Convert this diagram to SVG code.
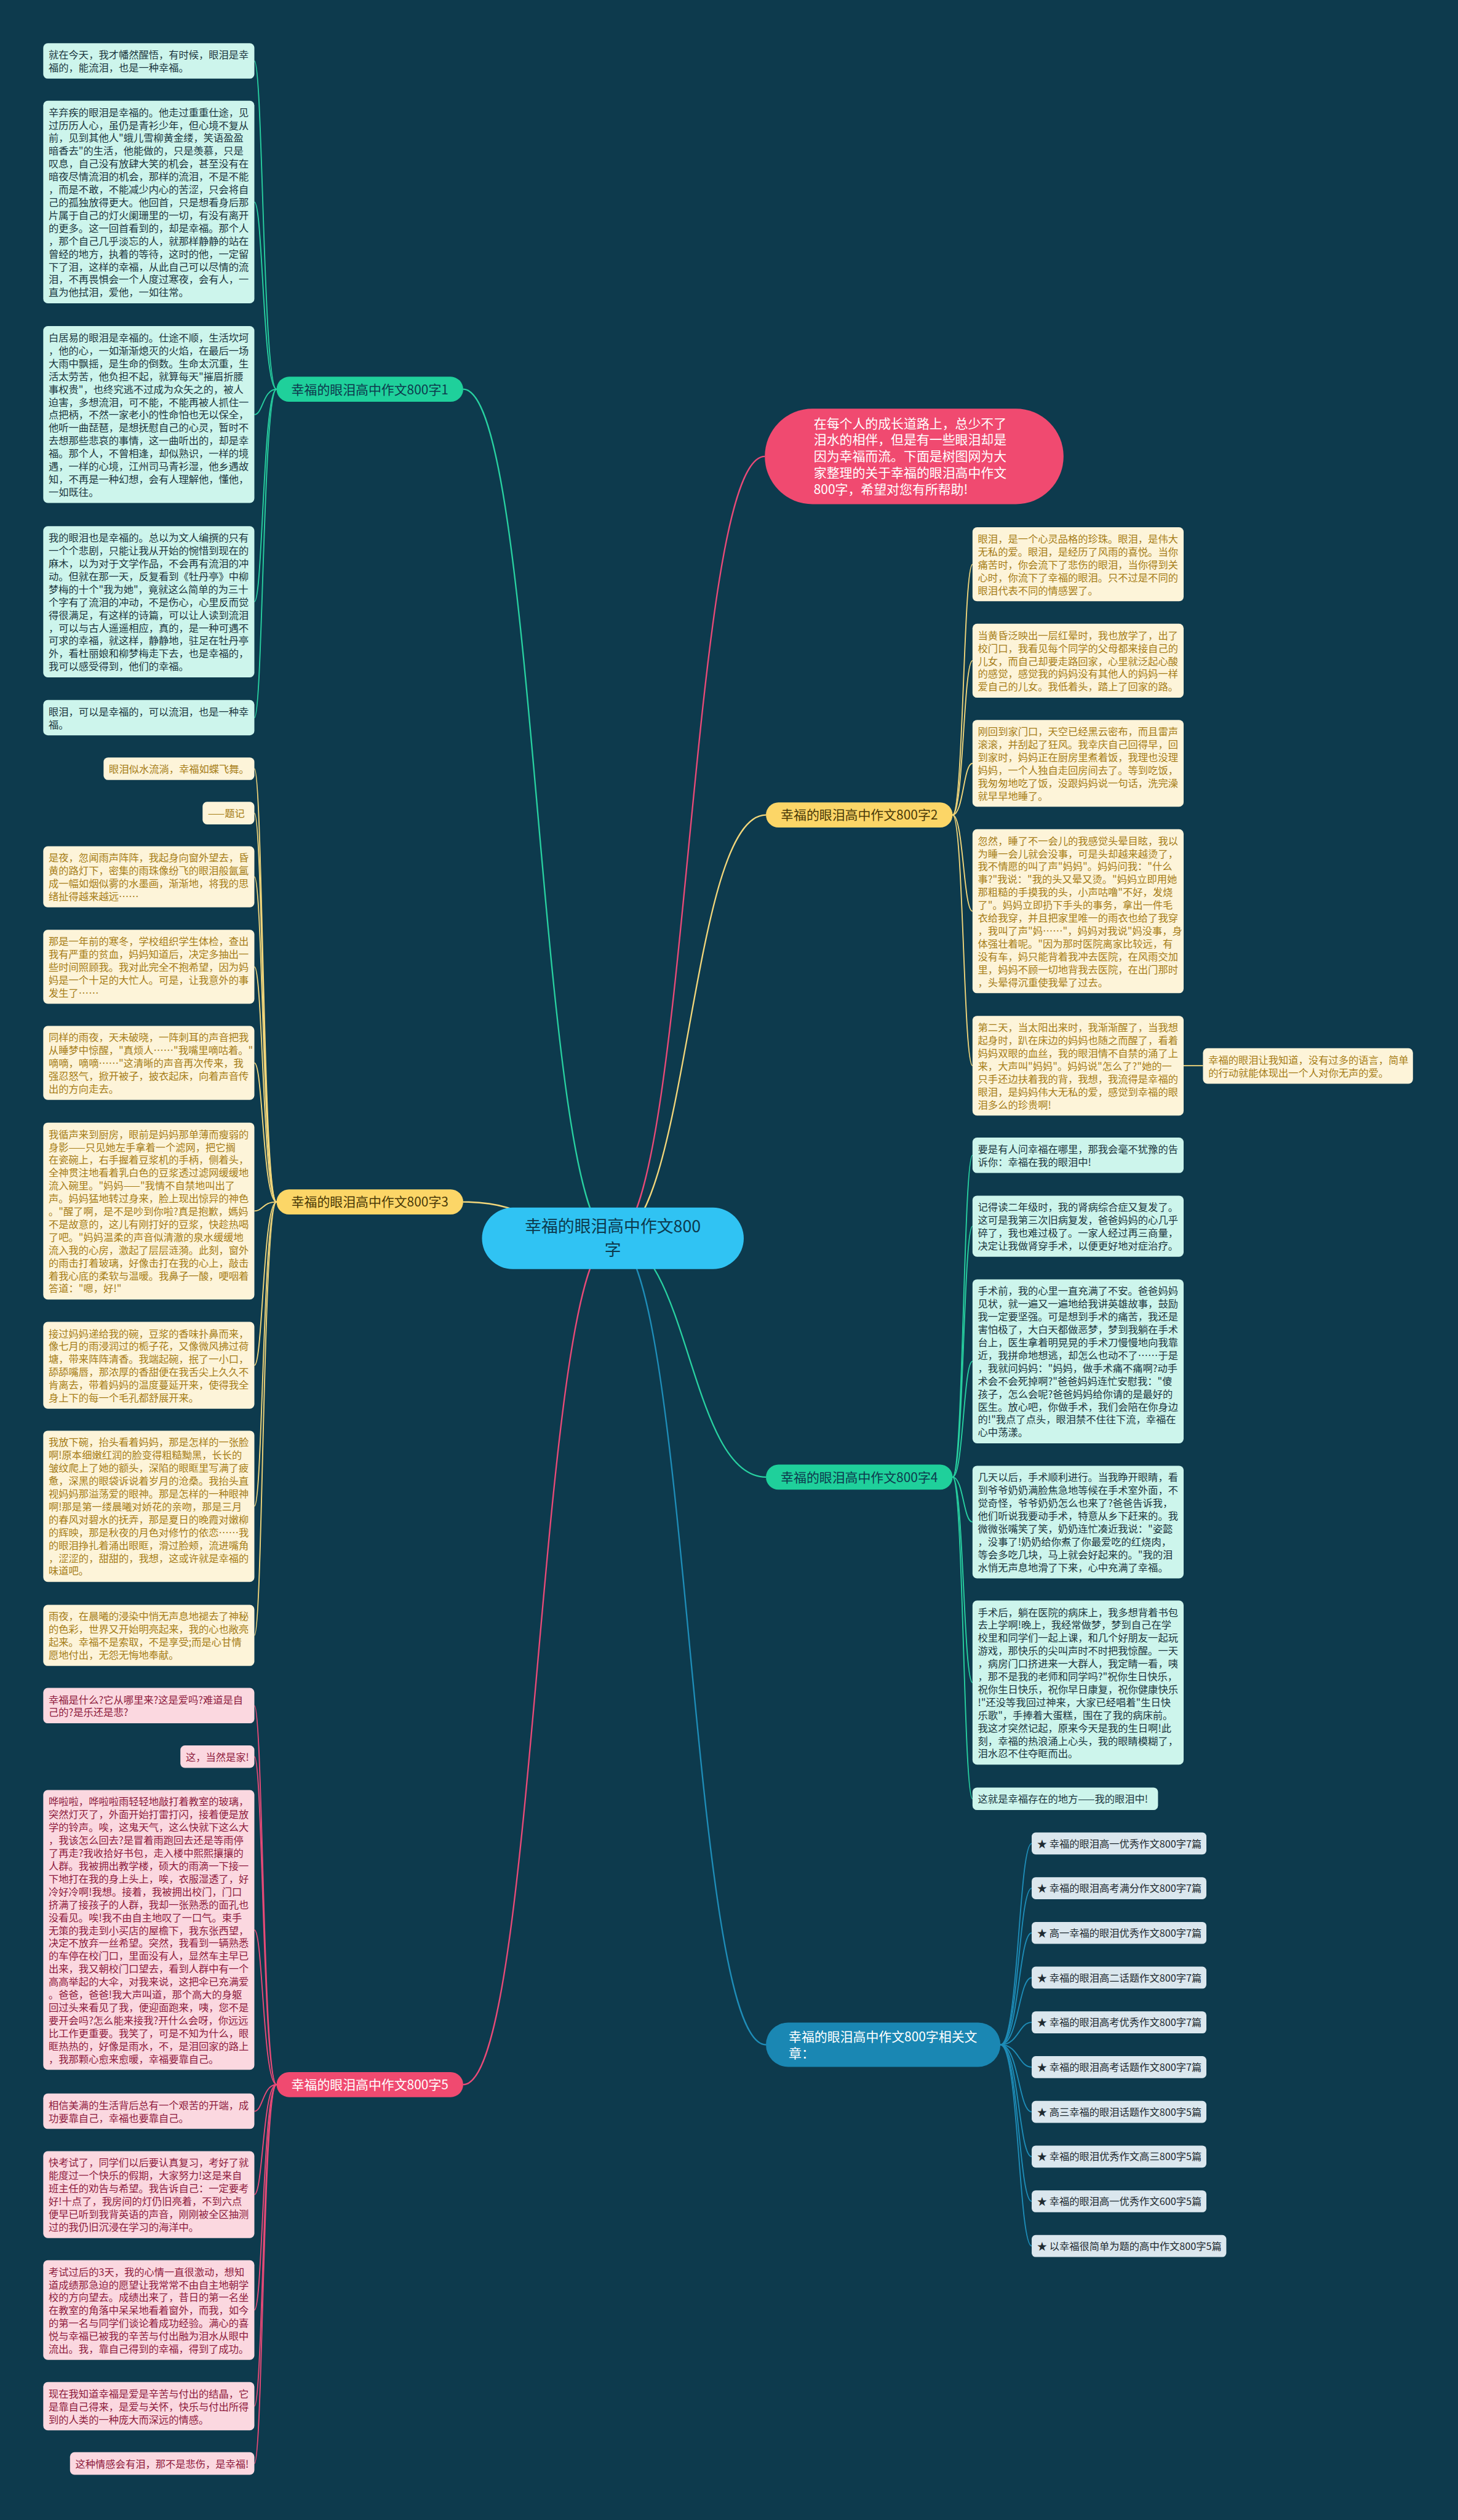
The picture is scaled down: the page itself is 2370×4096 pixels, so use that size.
<svg xmlns="http://www.w3.org/2000/svg" width="2370" height="4096" viewBox="0 0 2370 4096">
<style>
.t{font-family:"Noto Sans CJK SC","Noto Sans",sans-serif;font-size:17.6px}
.bt{font-family:"Noto Sans CJK SC","Noto Sans",sans-serif;font-size:22.6px}
.g rect{fill:#cdf5ec}.g text{fill:#1b3640}
.y rect{fill:#fdf4d9}.y text{fill:#a67d17}
.p rect{fill:#fbd8e0}.p text{fill:#8e1b3d}
.l rect{fill:#dbe7ee}.l text{fill:#1e2a30}
#connectors path{fill:none;stroke-width:2}
.cg{stroke:#28d1a1}.cy{stroke:#f3d77b}.cp{stroke:#ea4a78}.cb{stroke:#1e8db8}
.m{stroke-width:2.5 !important}
</style>
<rect x="0" y="0" width="2370" height="4096" fill="#0d3a4d"/>
<g transform="scale(0.925)">
<g id="connectors">
<path class="cp m" d="M1077 2176 C1210 2176 1210 802 1344 802"/>
<path class="cg m" d="M1077 2176 C945 2176 945 684 814 684"/>
<path class="cy m" d="M1077 2176 C945 2176 945 2112 814 2112"/>
<path class="cp m" d="M1077 2176 C945 2176 945 3663 814 3663"/>
<path class="cy m" d="M1077 2176 C1211 2176 1211 1432 1346 1432"/>
<path class="cg m" d="M1077 2176 C1211 2176 1211 2595.5 1346 2595.5"/>
<path class="cb m" d="M1077 2176 C1211 2176 1211 3593 1346 3593"/>
<path class="cg" d="M486 684 C462 684 462 107.1 447 107.1"/>
<path class="cg" d="M486 684 C462 684 462 355 447 355"/>
<path class="cg" d="M486 684 C462 684 462 728.4 447 728.4"/>
<path class="cg" d="M486 684 C462 684 462 1057.4 447 1057.4"/>
<path class="cg" d="M486 684 C462 684 462 1261.1 447 1261.1"/>
<path class="cy" d="M486 2112 C462 2112 462 1350.8 447 1350.8"/>
<path class="cy" d="M486 2112 C462 2112 462 1428.8 447 1428.8"/>
<path class="cy" d="M486 2112 C462 2112 462 1540.7 447 1540.7"/>
<path class="cy" d="M486 2112 C462 2112 462 1698.8 447 1698.8"/>
<path class="cy" d="M486 2112 C462 2112 462 1867.7 447 1867.7"/>
<path class="cy" d="M486 2112 C462 2112 462 2128 447 2128"/>
<path class="cy" d="M486 2112 C462 2112 462 2399.1 447 2399.1"/>
<path class="cy" d="M486 2112 C462 2112 462 2646.8 447 2646.8"/>
<path class="cy" d="M486 2112 C462 2112 462 2873.7 447 2873.7"/>
<path class="cp" d="M486 3663 C462 3663 462 2997.1 447 2997.1"/>
<path class="cp" d="M486 3663 C462 3663 462 3086.8 447 3086.8"/>
<path class="cp" d="M486 3663 C462 3663 462 3391.2 447 3391.2"/>
<path class="cp" d="M486 3663 C462 3663 462 3709.8 447 3709.8"/>
<path class="cp" d="M486 3663 C462 3663 462 3856.3 447 3856.3"/>
<path class="cp" d="M486 3663 C462 3663 462 4059.2 447 4059.2"/>
<path class="cp" d="M486 3663 C462 3663 462 4228.1 447 4228.1"/>
<path class="cp" d="M486 3663 C462 3663 462 4328.8 447 4328.8"/>
<path class="cy" d="M1674 1432 C1693 1432 1693 991.6 1709 991.6"/>
<path class="cy" d="M1674 1432 C1693 1432 1693 1161 1709 1161"/>
<path class="cy" d="M1674 1432 C1693 1432 1693 1341.3 1709 1341.3"/>
<path class="cy" d="M1674 1432 C1693 1432 1693 1601.1 1709 1601.1"/>
<path class="cy" d="M1674 1432 C1693 1432 1693 1872.6 1709 1872.6"/>
<path class="cy" d="M2080 1872.6 L2114 1872.6"/>
<path class="cg" d="M1674 2595.5 C1693 2595.5 1693 2030.1 1709 2030.1"/>
<path class="cg" d="M1674 2595.5 C1693 2595.5 1693 2154.7 1709 2154.7"/>
<path class="cg" d="M1674 2595.5 C1693 2595.5 1693 2392.1 1709 2392.1"/>
<path class="cg" d="M1674 2595.5 C1693 2595.5 1693 2674.5 1709 2674.5"/>
<path class="cg" d="M1674 2595.5 C1693 2595.5 1693 2956.6 1709 2956.6"/>
<path class="cg" d="M1674 2595.5 C1693 2595.5 1693 3160.8 1709 3160.8"/>
<path class="cb" d="M1758 3593 C1790 3593 1790 3239.3 1813 3239.3"/>
<path class="cb" d="M1758 3593 C1790 3593 1790 3317.9 1813 3317.9"/>
<path class="cb" d="M1758 3593 C1790 3593 1790 3396.5 1813 3396.5"/>
<path class="cb" d="M1758 3593 C1790 3593 1790 3475.1 1813 3475.1"/>
<path class="cb" d="M1758 3593 C1790 3593 1790 3553.7 1813 3553.7"/>
<path class="cb" d="M1758 3593 C1790 3593 1790 3632.3 1813 3632.3"/>
<path class="cb" d="M1758 3593 C1790 3593 1790 3710.9 1813 3710.9"/>
<path class="cb" d="M1758 3593 C1790 3593 1790 3789.5 1813 3789.5"/>
<path class="cb" d="M1758 3593 C1790 3593 1790 3868.1 1813 3868.1"/>
<path class="cb" d="M1758 3593 C1790 3593 1790 3946.7 1813 3946.7"/>
</g>

<g id="center"><rect x="847" y="2122" width="460" height="108" rx="54" fill="#30c3f3"/>
<text font-family="Noto Sans CJK SC,sans-serif" font-size="29" fill="#0d3a4d" text-anchor="middle"><tspan x="1077" y="2165">幸福的眼泪高中作文800</tspan><tspan x="1077" y="2207">字</tspan></text></g>

<g id="intro"><rect x="1344" y="718" width="525" height="168" rx="84" fill="#f04a70"/>
<text class="bt" fill="#ffffff"><tspan x="1430" y="752">在每个人的成长道路上，总少不了</tspan><tspan x="1430" y="781">泪水的相伴，但是有一些眼泪却是</tspan><tspan x="1430" y="810">因为幸福而流。下面是树图网为大</tspan><tspan x="1430" y="839">家整理的关于幸福的眼泪高中作文</tspan><tspan x="1430" y="868">800字，希望对您有所帮助!</tspan></text></g>

<g id="branch1"><rect x="486" y="662" width="328" height="44" rx="22" fill="#1fd09b"/><text class="bt" x="650" y="692.5" text-anchor="middle" fill="#0d3a4d">幸福的眼泪高中作文800字1</text></g>
<g id="branch2"><rect x="1346" y="1410" width="328" height="44" rx="22" fill="#fcd667"/><text class="bt" x="1510" y="1440.5" text-anchor="middle" fill="#4a3a08">幸福的眼泪高中作文800字2</text></g>
<g id="branch3"><rect x="486" y="2090" width="328" height="44" rx="22" fill="#fcd667"/><text class="bt" x="650" y="2120.5" text-anchor="middle" fill="#4a3a08">幸福的眼泪高中作文800字3</text></g>
<g id="branch4"><rect x="1346" y="2573.5" width="328" height="44" rx="22" fill="#1fd09b"/><text class="bt" x="1510" y="2604" text-anchor="middle" fill="#0d3a4d">幸福的眼泪高中作文800字4</text></g>
<g id="branch5"><rect x="486" y="3641" width="328" height="44" rx="22" fill="#f04a70"/><text class="bt" x="650" y="3671.5" text-anchor="middle" fill="#ffffff">幸福的眼泪高中作文800字5</text></g>
<g id="branch6"><rect x="1346" y="3554" width="412" height="78" rx="39" fill="#1a87b3"/><text class="bt" fill="#ffffff"><tspan x="1386" y="3587">幸福的眼泪高中作文800字相关文</tspan><tspan x="1386" y="3616">章：</tspan></text></g>

<g id="b1a" class="g"><rect x="76" y="76" width="371" height="62.2" rx="8"/><text class="t"><tspan x="85.5" y="103">就在今天，我才幡然醒悟，有时候，眼泪是幸</tspan><tspan x="85.5" dy="22.6">福的，能流泪，也是一种幸福。</tspan></text></g>
<g id="b1b" class="g"><rect x="76" y="177" width="371" height="356" rx="8"/><text class="t"><tspan x="85.5" y="204">辛弃疾的眼泪是幸福的。他走过重重仕途，见</tspan><tspan x="85.5" dy="22.6">过历历人心，虽仍是青衫少年，但心境不复从</tspan><tspan x="85.5" dy="22.6">前，见到其他人"蛾儿雪柳黄金缕，笑语盈盈</tspan><tspan x="85.5" dy="22.6">暗香去"的生活，他能做的，只是羡慕，只是</tspan><tspan x="85.5" dy="22.6">叹息，自己没有放肆大笑的机会，甚至没有在</tspan><tspan x="85.5" dy="22.6">暗夜尽情流泪的机会，那样的流泪，不是不能</tspan><tspan x="85.5" dy="22.6">，而是不敢，不能减少内心的苦涩，只会将自</tspan><tspan x="85.5" dy="22.6">己的孤独放得更大。他回首，只是想看身后那</tspan><tspan x="85.5" dy="22.6">片属于自己的灯火阑珊里的一切，有没有离开</tspan><tspan x="85.5" dy="22.6">的更多。这一回首看到的，却是幸福。那个人</tspan><tspan x="85.5" dy="22.6">，那个自己几乎淡忘的人，就那样静静的站在</tspan><tspan x="85.5" dy="22.6">曾经的地方，执着的等待，这时的他，一定留</tspan><tspan x="85.5" dy="22.6">下了泪，这样的幸福，从此自己可以尽情的流</tspan><tspan x="85.5" dy="22.6">泪，不再畏惧会一个人度过寒夜，会有人，一</tspan><tspan x="85.5" dy="22.6">直为他拭泪，爱他，一如往常。</tspan></text></g>
<g id="b1c" class="g"><rect x="76" y="573" width="371" height="310.8" rx="8"/><text class="t"><tspan x="85.5" y="600">白居易的眼泪是幸福的。仕途不顺，生活坎坷</tspan><tspan x="85.5" dy="22.6">，他的心，一如渐渐熄灭的火焰，在最后一场</tspan><tspan x="85.5" dy="22.6">大雨中飘摇，是生命的倒数。生命太沉重，生</tspan><tspan x="85.5" dy="22.6">活太劳苦，他负担不起，就算每天"摧眉折腰</tspan><tspan x="85.5" dy="22.6">事权贵"，也终究逃不过成为众矢之的，被人</tspan><tspan x="85.5" dy="22.6">迫害，多想流泪，可不能，不能再被人抓住一</tspan><tspan x="85.5" dy="22.6">点把柄，不然一家老小的性命怕也无以保全，</tspan><tspan x="85.5" dy="22.6">他听一曲琵琶，是想抚慰自己的心灵，暂时不</tspan><tspan x="85.5" dy="22.6">去想那些悲哀的事情，这一曲听出的，却是幸</tspan><tspan x="85.5" dy="22.6">福。那个人，不曾相逢，却似熟识，一样的境</tspan><tspan x="85.5" dy="22.6">遇，一样的心境，江州司马青衫湿，他乡遇故</tspan><tspan x="85.5" dy="22.6">知，不再是一种幻想，会有人理解他，懂他，</tspan><tspan x="85.5" dy="22.6">一如既往。</tspan></text></g>
<g id="b1d" class="g"><rect x="76" y="924.6" width="371" height="265.6" rx="8"/><text class="t"><tspan x="85.5" y="951.6">我的眼泪也是幸福的。总以为文人编撰的只有</tspan><tspan x="85.5" dy="22.6">一个个悲剧，只能让我从开始的惋惜到现在的</tspan><tspan x="85.5" dy="22.6">麻木，以为对于文学作品，不会再有流泪的冲</tspan><tspan x="85.5" dy="22.6">动。但就在那一天，反复看到《牡丹亭》中柳</tspan><tspan x="85.5" dy="22.6">梦梅的十个"我为她"，竟就这么简单的为三十</tspan><tspan x="85.5" dy="22.6">个字有了流泪的冲动，不是伤心，心里反而觉</tspan><tspan x="85.5" dy="22.6">得很满足，有这样的诗篇，可以让人读到流泪</tspan><tspan x="85.5" dy="22.6">，可以与古人遥遥相应，真的，是一种可遇不</tspan><tspan x="85.5" dy="22.6">可求的幸福，就这样，静静地，驻足在牡丹亭</tspan><tspan x="85.5" dy="22.6">外，看杜丽娘和柳梦梅走下去，也是幸福的，</tspan><tspan x="85.5" dy="22.6">我可以感受得到，他们的幸福。</tspan></text></g>
<g id="b1e" class="g"><rect x="76" y="1230" width="371" height="62.2" rx="8"/><text class="t"><tspan x="85.5" y="1257">眼泪，可以是幸福的，可以流泪，也是一种幸</tspan><tspan x="85.5" dy="22.6">福。</tspan></text></g>

<g id="y1" class="y"><rect x="182" y="1331" width="265" height="39.6" rx="8"/><text class="t" x="191.5" y="1358">眼泪似水流淌，幸福如蝶飞舞。</text></g>
<g id="y2" class="y"><rect x="356" y="1409" width="91" height="39.6" rx="8"/><text class="t" x="365.5" y="1436">——题记</text></g>
<g id="y3" class="y"><rect x="76" y="1487" width="371" height="107.4" rx="8"/><text class="t"><tspan x="85.5" y="1514">是夜，忽闻雨声阵阵，我起身向窗外望去，昏</tspan><tspan x="85.5" dy="22.6">黄的路灯下，密集的雨珠像纷飞的眼泪般氤氲</tspan><tspan x="85.5" dy="22.6">成一幅如烟似雾的水墨画，渐渐地，将我的思</tspan><tspan x="85.5" dy="22.6">绪扯得越来越远……</tspan></text></g>
<g id="y4" class="y"><rect x="76" y="1633.8" width="371" height="130" rx="8"/><text class="t"><tspan x="85.5" y="1660.8">那是一年前的寒冬，学校组织学生体检，查出</tspan><tspan x="85.5" dy="22.6">我有严重的贫血，妈妈知道后，决定多抽出一</tspan><tspan x="85.5" dy="22.6">些时间照顾我。我对此完全不抱希望，因为妈</tspan><tspan x="85.5" dy="22.6">妈是一个十足的大忙人。可是，让我意外的事</tspan><tspan x="85.5" dy="22.6">发生了……</tspan></text></g>
<g id="y5" class="y"><rect x="76" y="1802.7" width="371" height="130" rx="8"/><text class="t"><tspan x="85.5" y="1829.7">同样的雨夜，天未破晓，一阵刺耳的声音把我</tspan><tspan x="85.5" dy="22.6">从睡梦中惊醒，"真烦人……"我嘴里嘀咕着。"</tspan><tspan x="85.5" dy="22.6">嘀嘀，嘀嘀……"这清晰的声音再次传来，我</tspan><tspan x="85.5" dy="22.6">强忍怒气，掀开被子，披衣起床，向着声音传</tspan><tspan x="85.5" dy="22.6">出的方向走去。</tspan></text></g>
<g id="y6" class="y"><rect x="76" y="1972.6" width="371" height="310.8" rx="8"/><text class="t"><tspan x="85.5" y="1999.6">我循声来到厨房，眼前是妈妈那单薄而瘦弱的</tspan><tspan x="85.5" dy="22.6">身影——只见她左手拿着一个滤网，把它搁</tspan><tspan x="85.5" dy="22.6">在瓷碗上，右手握着豆浆机的手柄，侧着头，</tspan><tspan x="85.5" dy="22.6">全神贯注地看着乳白色的豆浆透过滤网缓缓地</tspan><tspan x="85.5" dy="22.6">流入碗里。"妈妈——"我情不自禁地叫出了</tspan><tspan x="85.5" dy="22.6">声。妈妈猛地转过身来，脸上现出惊异的神色</tspan><tspan x="85.5" dy="22.6">。"醒了啊，是不是吵到你啦?真是抱歉，媽妈</tspan><tspan x="85.5" dy="22.6">不是故意的，这儿有刚打好的豆浆，快趁热喝</tspan><tspan x="85.5" dy="22.6">了吧。"妈妈温柔的声音似清澈的泉水缓缓地</tspan><tspan x="85.5" dy="22.6">流入我的心房，激起了层层涟漪。此刻，窗外</tspan><tspan x="85.5" dy="22.6">的雨击打着玻璃，好像击打在我的心上，敲击</tspan><tspan x="85.5" dy="22.6">着我心底的柔软与温暖。我鼻子一酸，哽咽着</tspan><tspan x="85.5" dy="22.6">答道："嗯，好!"</tspan></text></g>
<g id="y7" class="y"><rect x="76" y="2322.8" width="371" height="152.6" rx="8"/><text class="t"><tspan x="85.5" y="2349.8">接过妈妈递给我的碗，豆浆的香味扑鼻而来，</tspan><tspan x="85.5" dy="22.6">像七月的雨浸润过的栀子花，又像微风拂过荷</tspan><tspan x="85.5" dy="22.6">塘，带来阵阵清香。我端起碗，抿了一小口，</tspan><tspan x="85.5" dy="22.6">舔舔嘴唇，那浓厚的香甜便在我舌尖上久久不</tspan><tspan x="85.5" dy="22.6">肯离去，带着妈妈的温度蔓延开来，使得我全</tspan><tspan x="85.5" dy="22.6">身上下的每一个毛孔都舒展开来。</tspan></text></g>
<g id="y8" class="y"><rect x="76" y="2514" width="371" height="265.6" rx="8"/><text class="t"><tspan x="85.5" y="2541">我放下碗，抬头看着妈妈，那是怎样的一张脸</tspan><tspan x="85.5" dy="22.6">啊!原本细嫩红润的脸变得粗糙黝黑，长长的</tspan><tspan x="85.5" dy="22.6">皱纹爬上了她的额头，深陷的眼眶里写满了疲</tspan><tspan x="85.5" dy="22.6">惫，深黑的眼袋诉说着岁月的沧桑。我抬头直</tspan><tspan x="85.5" dy="22.6">视妈妈那溢荡爱的眼神。那是怎样的一种眼神</tspan><tspan x="85.5" dy="22.6">啊!那是第一缕晨曦对娇花的亲吻，那是三月</tspan><tspan x="85.5" dy="22.6">的春风对碧水的抚弄，那是夏日的晚霞对嫩柳</tspan><tspan x="85.5" dy="22.6">的辉映，那是秋夜的月色对修竹的依恋……我</tspan><tspan x="85.5" dy="22.6">的眼泪挣扎着涌出眼眶，滑过脸颊，流进嘴角</tspan><tspan x="85.5" dy="22.6">，涩涩的，甜甜的，我想，这或许就是幸福的</tspan><tspan x="85.5" dy="22.6">味道吧。</tspan></text></g>
<g id="y9" class="y"><rect x="76" y="2820" width="371" height="107.4" rx="8"/><text class="t"><tspan x="85.5" y="2847">雨夜，在晨曦的浸染中悄无声息地褪去了神秘</tspan><tspan x="85.5" dy="22.6">的色彩，世界又开始明亮起来，我的心也敞亮</tspan><tspan x="85.5" dy="22.6">起来。幸福不是索取，不是享受;而是心甘情</tspan><tspan x="85.5" dy="22.6">愿地付出，无怨无悔地奉献。</tspan></text></g>

<g id="p1" class="p"><rect x="76" y="2966" width="371" height="62.2" rx="8"/><text class="t"><tspan x="85.5" y="2993">幸福是什么?它从哪里来?这是爱吗?难道是自</tspan><tspan x="85.5" dy="22.6">己的?是乐还是悲?</tspan></text></g>
<g id="p2" class="p"><rect x="317" y="3067" width="130" height="39.6" rx="8"/><text class="t" x="326.5" y="3094">这，当然是家!</text></g>
<g id="p3" class="p"><rect x="76" y="3145.4" width="371" height="491.6" rx="8"/><text class="t"><tspan x="85.5" y="3172.4">哗啦啦，哗啦啦雨轻轻地敲打着教室的玻璃，</tspan><tspan x="85.5" dy="22.6">突然灯灭了，外面开始打雷打闪，接着便是放</tspan><tspan x="85.5" dy="22.6">学的铃声。唉，这鬼天气，这么快就下这么大</tspan><tspan x="85.5" dy="22.6">，我该怎么回去?是冒着雨跑回去还是等雨停</tspan><tspan x="85.5" dy="22.6">了再走?我收拾好书包，走入楼中熙熙攘攘的</tspan><tspan x="85.5" dy="22.6">人群。我被拥出教学楼，硕大的雨滴一下接一</tspan><tspan x="85.5" dy="22.6">下地打在我的身上头上，唉，衣服湿透了，好</tspan><tspan x="85.5" dy="22.6">冷好冷啊!我想。接着，我被拥出校门，门口</tspan><tspan x="85.5" dy="22.6">挤满了接孩子的人群，我却一张熟悉的面孔也</tspan><tspan x="85.5" dy="22.6">没看见。唉!我不由自主地叹了一口气。束手</tspan><tspan x="85.5" dy="22.6">无策的我走到小买店的屋檐下，我东张西望，</tspan><tspan x="85.5" dy="22.6">决定不放弃一丝希望。突然，我看到一辆熟悉</tspan><tspan x="85.5" dy="22.6">的车停在校门口，里面没有人，显然车主早已</tspan><tspan x="85.5" dy="22.6">出来，我又朝校门口望去，看到人群中有一个</tspan><tspan x="85.5" dy="22.6">高高举起的大伞，对我来说，这把伞已充满爱</tspan><tspan x="85.5" dy="22.6">。爸爸，爸爸!我大声叫道，那个高大的身躯</tspan><tspan x="85.5" dy="22.6">回过头来看见了我，便迎面跑来，咦，您不是</tspan><tspan x="85.5" dy="22.6">要开会吗?怎么能来接我?开什么会呀，你远远</tspan><tspan x="85.5" dy="22.6">比工作更重要。我笑了，可是不知为什么，眼</tspan><tspan x="85.5" dy="22.6">眶热热的，好像是雨水，不，是泪回家的路上</tspan><tspan x="85.5" dy="22.6">，我那颗心愈来愈暖，幸福要靠自己。</tspan></text></g>
<g id="p4" class="p"><rect x="76" y="3678.7" width="371" height="62.2" rx="8"/><text class="t"><tspan x="85.5" y="3705.7">相信美满的生活背后总有一个艰苦的开端，成</tspan><tspan x="85.5" dy="22.6">功要靠自己，幸福也要靠自己。</tspan></text></g>
<g id="p5" class="p"><rect x="76" y="3780" width="371" height="152.6" rx="8"/><text class="t"><tspan x="85.5" y="3807">快考试了，同学们以后要认真复习，考好了就</tspan><tspan x="85.5" dy="22.6">能度过一个快乐的假期，大家努力!这是来自</tspan><tspan x="85.5" dy="22.6">班主任的劝告与希望。我告诉自己：一定要考</tspan><tspan x="85.5" dy="22.6">好!十点了，我房间的灯仍旧亮着，不到六点</tspan><tspan x="85.5" dy="22.6">便早已听到我背英语的声音，刚刚被全区抽测</tspan><tspan x="85.5" dy="22.6">过的我仍旧沉浸在学习的海洋中。</tspan></text></g>
<g id="p6" class="p"><rect x="76" y="3971.6" width="371" height="175.2" rx="8"/><text class="t"><tspan x="85.5" y="3998.6">考试过后的3天，我的心情一直很激动，想知</tspan><tspan x="85.5" dy="22.6">道成绩那急迫的愿望让我常常不由自主地朝学</tspan><tspan x="85.5" dy="22.6">校的方向望去。成绩出来了，昔日的第一名坐</tspan><tspan x="85.5" dy="22.6">在教室的角落中呆呆地看着窗外，而我，如今</tspan><tspan x="85.5" dy="22.6">的第一名与同学们谈论着成功经验。满心的喜</tspan><tspan x="85.5" dy="22.6">悦与幸福已被我的辛苦与付出融为泪水从眼中</tspan><tspan x="85.5" dy="22.6">流出。我，靠自己得到的幸福，得到了成功。</tspan></text></g>
<g id="p7" class="p"><rect x="76" y="4185.7" width="371" height="84.8" rx="8"/><text class="t"><tspan x="85.5" y="4212.7">现在我知道幸福是爱是辛苦与付出的结晶，它</tspan><tspan x="85.5" dy="22.6">是靠自己得来，是爱与关怀，快乐与付出所得</tspan><tspan x="85.5" dy="22.6">到的人类的一种庞大而深远的情感。</tspan></text></g>
<g id="p8" class="p"><rect x="123" y="4309" width="324" height="39.6" rx="8"/><text class="t" x="132.5" y="4336">这种情感会有泪，那不是悲伤，是幸福!</text></g>

<g id="r1" class="y"><rect x="1709" y="926.6" width="371" height="130" rx="8"/><text class="t"><tspan x="1718.5" y="953.6">眼泪，是一个心灵品格的珍珠。眼泪，是伟大</tspan><tspan x="1718.5" dy="22.6">无私的爱。眼泪，是经历了风雨的喜悦。当你</tspan><tspan x="1718.5" dy="22.6">痛苦时，你会流下了悲伤的眼泪，当你得到关</tspan><tspan x="1718.5" dy="22.6">心时，你流下了幸福的眼泪。只不过是不同的</tspan><tspan x="1718.5" dy="22.6">眼泪代表不同的情感罢了。</tspan></text></g>
<g id="r2" class="y"><rect x="1709" y="1096" width="371" height="130" rx="8"/><text class="t"><tspan x="1718.5" y="1123">当黄昏泛映出一层红晕时，我也放学了，出了</tspan><tspan x="1718.5" dy="22.6">校门口，我看见每个同学的父母都来接自己的</tspan><tspan x="1718.5" dy="22.6">儿女，而自己却要走路回家，心里就泛起心酸</tspan><tspan x="1718.5" dy="22.6">的感觉，感觉我的妈妈没有其他人的妈妈一样</tspan><tspan x="1718.5" dy="22.6">爱自己的儿女。我低着头，踏上了回家的路。</tspan></text></g>
<g id="r3" class="y"><rect x="1709" y="1265" width="371" height="152.6" rx="8"/><text class="t"><tspan x="1718.5" y="1292">刚回到家门口，天空已经黑云密布，而且雷声</tspan><tspan x="1718.5" dy="22.6">滚滚，并刮起了狂风。我幸庆自己回得早，回</tspan><tspan x="1718.5" dy="22.6">到家时，妈妈正在厨房里煮着饭，我理也没理</tspan><tspan x="1718.5" dy="22.6">妈妈，一个人独自走回房间去了。等到吃饭，</tspan><tspan x="1718.5" dy="22.6">我匆匆地吃了饭，没跟妈妈说一句话，洗完澡</tspan><tspan x="1718.5" dy="22.6">就早早地睡了。</tspan></text></g>
<g id="r4" class="y"><rect x="1709" y="1457" width="371" height="288.2" rx="8"/><text class="t"><tspan x="1718.5" y="1484">忽然，睡了不一会儿的我感觉头晕目眩，我以</tspan><tspan x="1718.5" dy="22.6">为睡一会儿就会没事，可是头却越来越烫了，</tspan><tspan x="1718.5" dy="22.6">我不情愿的叫了声"妈妈"。妈妈问我："什么</tspan><tspan x="1718.5" dy="22.6">事?"我说："我的头又晕又烫。"妈妈立即用她</tspan><tspan x="1718.5" dy="22.6">那粗糙的手摸我的头，小声咕噜"不好，发烧</tspan><tspan x="1718.5" dy="22.6">了"。妈妈立即扔下手头的事务，拿出一件毛</tspan><tspan x="1718.5" dy="22.6">衣给我穿，并且把家里唯一的雨衣也给了我穿</tspan><tspan x="1718.5" dy="22.6">，我叫了声"妈……"，妈妈对我说"妈没事，身</tspan><tspan x="1718.5" dy="22.6">体强壮着呢。"因为那时医院离家比较远，有</tspan><tspan x="1718.5" dy="22.6">没有车，妈只能背着我冲去医院，在风雨交加</tspan><tspan x="1718.5" dy="22.6">里，妈妈不顾一切地背我去医院，在出门那时</tspan><tspan x="1718.5" dy="22.6">，头晕得沉重使我晕了过去。</tspan></text></g>
<g id="r5" class="y"><rect x="1709" y="1785" width="371" height="175.2" rx="8"/><text class="t"><tspan x="1718.5" y="1812">第二天，当太阳出来时，我渐渐醒了，当我想</tspan><tspan x="1718.5" dy="22.6">起身时，趴在床边的妈妈也随之而醒了，看着</tspan><tspan x="1718.5" dy="22.6">妈妈双眼的血丝，我的眼泪情不自禁的涌了上</tspan><tspan x="1718.5" dy="22.6">来，大声叫"妈妈"。妈妈说"怎么了?"她的一</tspan><tspan x="1718.5" dy="22.6">只手还边扶着我的背，我想，我流得是幸福的</tspan><tspan x="1718.5" dy="22.6">眼泪，是妈妈伟大无私的爱，感觉到幸福的眼</tspan><tspan x="1718.5" dy="22.6">泪多么的珍贵啊!</tspan></text></g>
<g id="r5leaf" class="y"><rect x="2114" y="1842" width="369" height="62.2" rx="8"/><text class="t"><tspan x="2123.5" y="1869">幸福的眼泪让我知道，没有过多的语言，简单</tspan><tspan x="2123.5" dy="22.6">的行动就能体现出一个人对你无声的爱。</tspan></text></g>

<g id="g1" class="g"><rect x="1709" y="1999" width="371" height="62.2" rx="8"/><text class="t"><tspan x="1718.5" y="2026">要是有人问幸福在哪里，那我会毫不犹豫的告</tspan><tspan x="1718.5" dy="22.6">诉你：幸福在我的眼泪中!</tspan></text></g>
<g id="g2" class="g"><rect x="1709" y="2101" width="371" height="107.4" rx="8"/><text class="t"><tspan x="1718.5" y="2128">记得读二年级时，我的肾病综合症又复发了。</tspan><tspan x="1718.5" dy="22.6">这可是我第三次旧病复发，爸爸妈妈的心几乎</tspan><tspan x="1718.5" dy="22.6">碎了，我也难过极了。一家人经过再三商量，</tspan><tspan x="1718.5" dy="22.6">决定让我做肾穿手术，以便更好地对症治疗。</tspan></text></g>
<g id="g3" class="g"><rect x="1709" y="2248" width="371" height="288.2" rx="8"/><text class="t"><tspan x="1718.5" y="2275">手术前，我的心里一直充满了不安。爸爸妈妈</tspan><tspan x="1718.5" dy="22.6">见状，就一遍又一遍地给我讲英雄故事，鼓励</tspan><tspan x="1718.5" dy="22.6">我一定要坚强。可是想到手术的痛苦，我还是</tspan><tspan x="1718.5" dy="22.6">害怕极了，大白天都做恶梦，梦到我躺在手术</tspan><tspan x="1718.5" dy="22.6">台上，医生拿着明晃晃的手术刀慢慢地向我靠</tspan><tspan x="1718.5" dy="22.6">近，我拼命地想逃，却怎么也动不了……于是</tspan><tspan x="1718.5" dy="22.6">，我就问妈妈："妈妈，做手术痛不痛啊?动手</tspan><tspan x="1718.5" dy="22.6">术会不会死掉啊?"爸爸妈妈连忙安慰我："傻</tspan><tspan x="1718.5" dy="22.6">孩子，怎么会呢?爸爸妈妈给你请的是最好的</tspan><tspan x="1718.5" dy="22.6">医生。放心吧，你做手术，我们会陪在你身边</tspan><tspan x="1718.5" dy="22.6">的!"我点了点头，眼泪禁不住往下流，幸福在</tspan><tspan x="1718.5" dy="22.6">心中荡漾。</tspan></text></g>
<g id="g4" class="g"><rect x="1709" y="2575.6" width="371" height="197.8" rx="8"/><text class="t"><tspan x="1718.5" y="2602.6">几天以后，手术顺利进行。当我睁开眼睛，看</tspan><tspan x="1718.5" dy="22.6">到爷爷奶奶满脸焦急地等候在手术室外面，不</tspan><tspan x="1718.5" dy="22.6">觉奇怪，爷爷奶奶怎么也来了?爸爸告诉我，</tspan><tspan x="1718.5" dy="22.6">他们听说我要动手术，特意从乡下赶来的。我</tspan><tspan x="1718.5" dy="22.6">微微张嘴笑了笑，奶奶连忙凑近我说："姿懿</tspan><tspan x="1718.5" dy="22.6">，没事了!奶奶给你煮了你最爱吃的红烧肉，</tspan><tspan x="1718.5" dy="22.6">等会多吃几块，马上就会好起来的。"我的泪</tspan><tspan x="1718.5" dy="22.6">水悄无声息地滑了下来，心中充满了幸福。</tspan></text></g>
<g id="g5" class="g"><rect x="1709" y="2812.5" width="371" height="288.2" rx="8"/><text class="t"><tspan x="1718.5" y="2839.5">手术后，躺在医院的病床上，我多想背着书包</tspan><tspan x="1718.5" dy="22.6">去上学啊!晚上，我经常做梦，梦到自己在学</tspan><tspan x="1718.5" dy="22.6">校里和同学们一起上课，和几个好朋友一起玩</tspan><tspan x="1718.5" dy="22.6">游戏，那快乐的尖叫声时不时把我惊醒。一天</tspan><tspan x="1718.5" dy="22.6">，病房门口挤进来一大群人，我定睛一看，咦</tspan><tspan x="1718.5" dy="22.6">，那不是我的老师和同学吗?"祝你生日快乐，</tspan><tspan x="1718.5" dy="22.6">祝你生日快乐，祝你早日康复，祝你健康快乐</tspan><tspan x="1718.5" dy="22.6">!"还没等我回过神来，大家已经唱着"生日快</tspan><tspan x="1718.5" dy="22.6">乐歌"，手捧着大蛋糕，围在了我的病床前。</tspan><tspan x="1718.5" dy="22.6">我这才突然记起，原来今天是我的生日啊!此</tspan><tspan x="1718.5" dy="22.6">刻，幸福的热浪涌上心头，我的眼睛模糊了，</tspan><tspan x="1718.5" dy="22.6">泪水忍不住夺眶而出。</tspan></text></g>
<g id="g6" class="g"><rect x="1709" y="3141" width="326" height="39.6" rx="8"/><text class="t" x="1718.5" y="3168">这就是幸福存在的地方——我的眼泪中!</text></g>

<g id="k1" class="l"><rect x="1813" y="3220" width="307" height="38.6" rx="7"/><text class="t" x="1822.5" y="3246">★ 幸福的眼泪高一优秀作文800字7篇</text></g>
<g id="k2" class="l"><rect x="1813" y="3298.6" width="307" height="38.6" rx="7"/><text class="t" x="1822.5" y="3324.6">★ 幸福的眼泪高考满分作文800字7篇</text></g>
<g id="k3" class="l"><rect x="1813" y="3377.2" width="307" height="38.6" rx="7"/><text class="t" x="1822.5" y="3403.2">★ 高一幸福的眼泪优秀作文800字7篇</text></g>
<g id="k4" class="l"><rect x="1813" y="3455.8" width="307" height="38.6" rx="7"/><text class="t" x="1822.5" y="3481.8">★ 幸福的眼泪高二话题作文800字7篇</text></g>
<g id="k5" class="l"><rect x="1813" y="3534.4" width="307" height="38.6" rx="7"/><text class="t" x="1822.5" y="3560.4">★ 幸福的眼泪高考优秀作文800字7篇</text></g>
<g id="k6" class="l"><rect x="1813" y="3613" width="307" height="38.6" rx="7"/><text class="t" x="1822.5" y="3639">★ 幸福的眼泪高考话题作文800字7篇</text></g>
<g id="k7" class="l"><rect x="1813" y="3691.6" width="307" height="38.6" rx="7"/><text class="t" x="1822.5" y="3717.6">★ 高三幸福的眼泪话题作文800字5篇</text></g>
<g id="k8" class="l"><rect x="1813" y="3770.2" width="307" height="38.6" rx="7"/><text class="t" x="1822.5" y="3796.2">★ 幸福的眼泪优秀作文高三800字5篇</text></g>
<g id="k9" class="l"><rect x="1813" y="3848.8" width="307" height="38.6" rx="7"/><text class="t" x="1822.5" y="3874.8">★ 幸福的眼泪高一优秀作文600字5篇</text></g>
<g id="k10" class="l"><rect x="1813" y="3927.4" width="342" height="38.6" rx="7"/><text class="t" x="1822.5" y="3953.4">★ 以幸福很简单为题的高中作文800字5篇</text></g>
</g>
</svg>
